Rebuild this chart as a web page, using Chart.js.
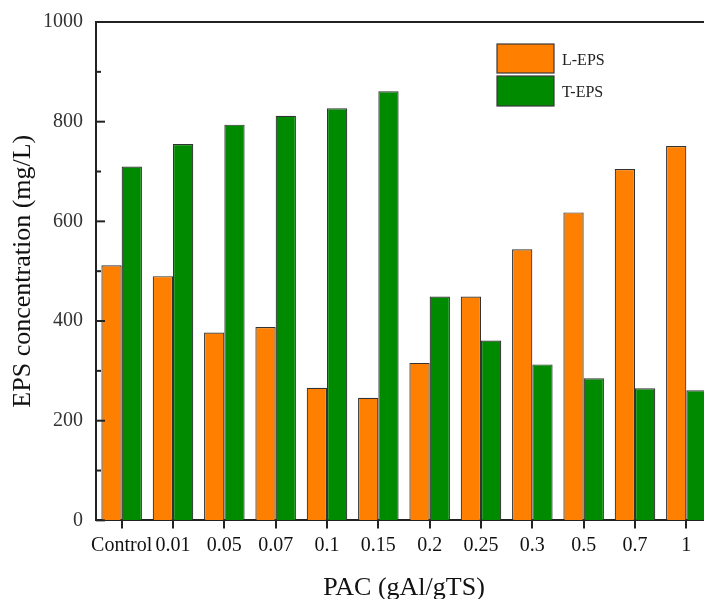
<!DOCTYPE html>
<html>
<head>
<meta charset="utf-8">
<script src="https://cdn.jsdelivr.net/npm/chart.js@4/dist/chart.umd.min.js"></script>
<style>
  html, body { margin: 0; padding: 0; background: #fff; overflow: hidden; }
  #wrap { width: 716px; height: 599px; }
</style>
</head>
<body>
<div id="wrap"><canvas id="epsChart" width="716" height="599"></canvas></div>
<script>
// PAC dose categories and EPS values (mg/L)
const categories = ['Control', '0.01', '0.05', '0.07', '0.1', '0.15', '0.2', '0.25', '0.3', '0.5', '0.7', '1'];
const lepsValues = [512, 490, 377, 388, 266, 246, 316, 449, 544, 618, 705, 751];
const tepsValues = [710, 755, 794, 812, 827, 861, 449, 361, 313, 285, 265, 261];
const yTicks = [0, 200, 400, 600, 800, 1000];

const axisColor = '#222';
const serif = 'Liberation Serif, Times New Roman, serif';

// frame line on top, inward y ticks, and the boxed legend
const framePlugin = {
    id: 'frame',
    afterDraw(chart) {
        const ctx = chart.ctx;
        const area = chart.chartArea;
        const y = chart.scales.y;
        ctx.save();
        ctx.strokeStyle = axisColor;
        ctx.lineWidth = 2;
        ctx.beginPath();
        ctx.moveTo(area.left - 1, area.top);
        ctx.lineTo(area.right + 2, area.top);
        ctx.stroke();

        for (let v = 0; v <= 1000; v += 100) {
            const py = y.getPixelForValue(v);
            const len = v % 200 === 0 ? 9 : 5;
            ctx.beginPath();
            ctx.moveTo(area.left, py);
            ctx.lineTo(area.left + len, py);
            ctx.stroke();
        }

        // legend
        const items = chart.data.datasets;
        const boxes = [{ y: 44, h: 29 }, { y: 76, h: 30 }];
        ctx.lineWidth = 1.2;
        ctx.font = '16px ' + serif;
        ctx.textBaseline = 'middle';
        items.forEach((ds, i) => {
            const b = boxes[i];
            ctx.fillStyle = ds.backgroundColor;
            ctx.fillRect(497, b.y, 57, b.h);
            ctx.strokeStyle = '#3a3a3a';
            ctx.strokeRect(497, b.y, 57, b.h);
            ctx.fillStyle = '#222';
            ctx.fillText(ds.label, 562, b.y + b.h / 2 + 2);
        });
        ctx.restore();
    }
};

new Chart(document.getElementById('epsChart'), {
    type: 'bar',
    data: {
        labels: categories,
        datasets: [{
            label: 'L-EPS',
            data: lepsValues,
            backgroundColor: '#ff8000',
            borderColor: '#333',
            borderWidth: 1.2
        }, {
            label: 'T-EPS',
            data: tepsValues,
            backgroundColor: '#008a00',
            borderColor: '#333',
            borderWidth: 1.2
        }]
    },
    options: {
        responsive: false,
        animation: false,
        categoryPercentage: 0.79,
        barPercentage: 1.0,
        layout: { padding: { top: 22, right: 4, left: 0, bottom: 0 } },
        plugins: {
            legend: { display: false },
            tooltip: { enabled: false }
        },
        scales: {
            x: {
                afterFit(scale) {
                    scale.paddingLeft = 0;
                    scale.paddingRight = 0;
                },
                grid: {
                    offset: false,
                    drawOnChartArea: false,
                    tickLength: 8,
                    color: axisColor,
                    lineWidth: 2
                },
                border: { display: true, color: axisColor, width: 2 },
                ticks: {
                    color: '#111',
                    padding: 5,
                    autoSkip: false,
                    maxRotation: 0,
                    font: { family: serif, size: 20 }
                },
                title: {
                    display: true,
                    text: 'PAC (gAl/gTS)',
                    color: '#111',
                    padding: { top: 14, bottom: 0 },
                    font: { family: serif, size: 26, lineHeight: 0.87 }
                }
            },
            y: {
                min: 0,
                max: 1000,
                afterBuildTicks(scale) {
                    scale.ticks = yTicks.map(v => ({ value: v }));
                },
                afterFit(scale) {
                    scale.width = 96;
                    scale.paddingTop = 0;
                    scale.paddingBottom = 0;
                },
                grid: {
                    drawOnChartArea: false,
                    drawTicks: false,
                    tickLength: 0
                },
                border: { display: true, color: axisColor, width: 2 },
                ticks: {
                    color: '#333',
                    padding: 13,
                    font: { family: serif, size: 20 },
                    callback: v => String(v)
                },
                title: {
                    display: true,
                    text: 'EPS concentration (mg/L)',
                    color: '#111',
                    padding: { top: 9, bottom: 6 },
                    font: { family: serif, size: 26, lineHeight: 1.1 }
                }
            }
        }
    },
    plugins: [framePlugin]
});
</script>
</body>
</html>
